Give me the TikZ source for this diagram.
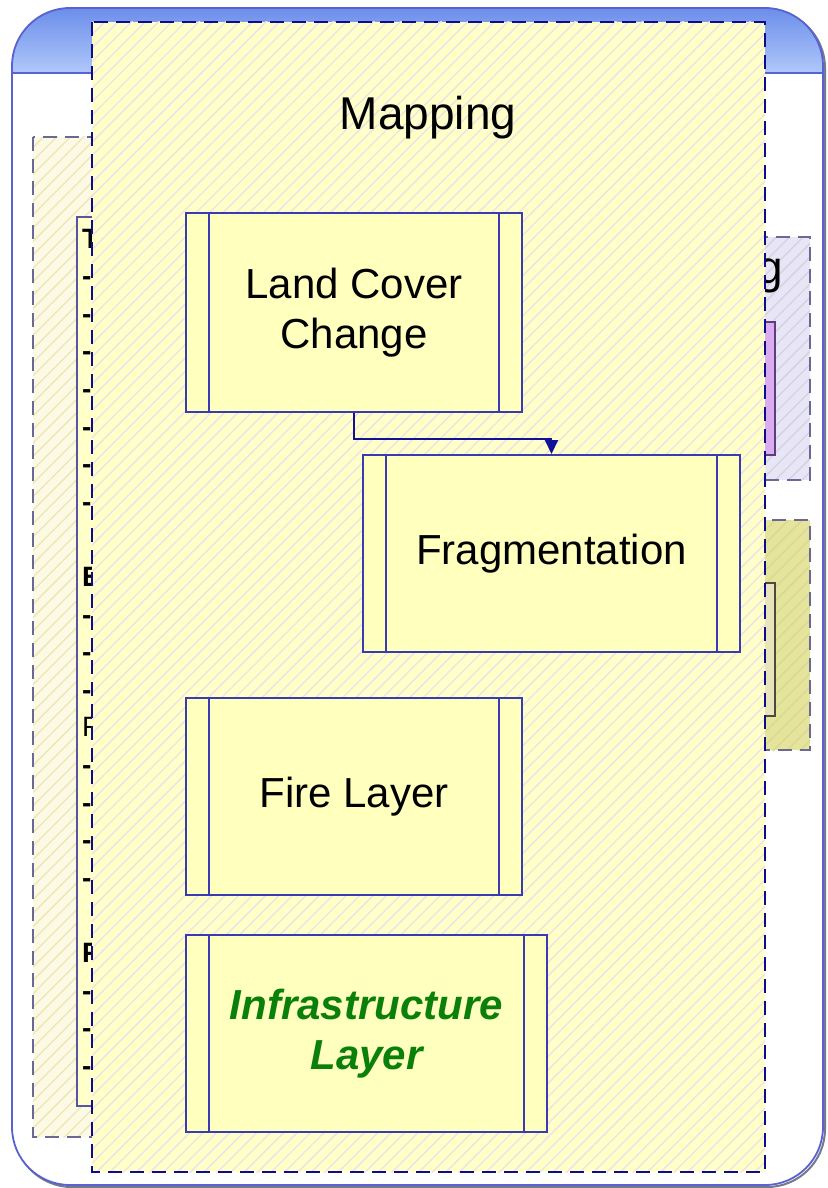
\documentclass[tikz,border=0pt]{standalone}
\usepackage{fontspec}
\setmainfont{Liberation Sans}
\usetikzlibrary{patterns.meta, arrows.meta, calc}

\definecolor{hdtop}{RGB}{108,142,234}
\definecolor{hdbot}{RGB}{176,200,250}
\definecolor{outerline}{RGB}{88,98,208}
\definecolor{shadowcol}{RGB}{120,120,140}
\definecolor{panelfill}{RGB}{255,255,200}
\definecolor{panelhatch}{RGB}{240,222,234}
\definecolor{mapline}{RGB}{12,12,140}
\definecolor{nodefill}{RGB}{255,255,190}
\definecolor{boxline}{RGB}{58,58,178}
\definecolor{flowcol}{RGB}{18,18,150}
\definecolor{infragreen}{RGB}{10,128,10}
\definecolor{leftfill}{RGB}{252,250,228}
\definecolor{lefthatch}{RGB}{238,230,178}
\definecolor{greyline}{RGB}{105,105,150}
\definecolor{listfill}{RGB}{255,255,202}
\definecolor{listline}{RGB}{85,85,160}
\definecolor{lavfill}{RGB}{232,230,246}
\definecolor{lavhatch}{RGB}{212,210,222}
\definecolor{purplebox}{RGB}{218,172,240}
\definecolor{purpleline}{RGB}{95,60,125}
\definecolor{olivefill}{RGB}{228,228,156}
\definecolor{olivehatch}{RGB}{216,216,144}
\definecolor{olivebox}{RGB}{232,228,188}
\definecolor{oliveline}{RGB}{80,72,60}

\begin{document}
\begin{tikzpicture}[x=1pt,y=-1pt,
  panelborder/.style={dash pattern=on 14pt off 8pt, line width=2pt},
  hatch/.style={pattern={Lines[angle=45,distance=9.5pt,line width=1.3pt]}, pattern color=#1},
  layerbox/.style={draw=boxline, line width=1.9pt, fill=nodefill, inner sep=0pt,
    align=center, text=black, font=\fontsize{42}{50}\selectfont},
  sidebar/.style={draw=boxline, line width=1.9pt},
  listhead/.style={anchor=base west, inner sep=0pt, font=\fontsize{28}{34}\selectfont\bfseries},
  listitem/.style={anchor=base west, inner sep=0pt, font=\fontsize{28}{34}\selectfont},
  flow/.style={draw=flowcol, line width=1.7pt, -{Triangle[length=14pt,width=13pt]}}
]
\useasboundingbox (0,0) rectangle (827,1188);
\fill[white] (0,0) rectangle (827,1188);

% outer container with blue title band
\draw[shadowcol, line width=2pt, rounded corners=58pt] (14,10) rectangle (825,1187);
\begin{scope}
  \clip[rounded corners=58pt] (12,8) rectangle (823,1185);
  \fill[white] (12,8) rectangle (823,1185);
  \shade[top color=hdtop, bottom color=hdbot] (12,8) rectangle (823,73);
\end{scope}
\draw[outerline, line width=1.2pt] (12,73) -- (823,73);
\draw[outerline, line width=1.8pt, rounded corners=58pt] (12,8) rectangle (823,1185);

% left panel (mostly covered)
\fill[leftfill] (33,137) rectangle (200,1137);
\fill[hatch=lefthatch] (33,137) rectangle (200,1137);
\draw[greyline, panelborder] (33,137) rectangle (200,1137);
\draw[listline, line width=1.6pt, fill=listfill] (77,217) rectangle (200,1106);
\foreach \k/\s in {0/T,9/E,19/F}
  \node[listhead] (head\k) at (82,{248+37.6*\k}) {\s};
\node[listitem] (item13) at (82,{248+37.6*13}) {R};
\foreach \k in {1,2,3,4,5,6,7,10,11,12,14,15,16,17,20,21,22}
  \node[listhead] (tick\k) at (82,{248+37.6*\k}) {-};

% right panels (mostly covered)
\fill[lavfill] (700,237) rectangle (810,480);
\fill[hatch=lavhatch] (700,237) rectangle (810,480);
\draw[greyline, panelborder] (700,237) rectangle (810,480);
\node[anchor=base east, inner sep=0pt, font=\fontsize{46}{52}\selectfont] (rtitle) at (783,283) {g};
\draw[purpleline, line width=1.5pt, fill=purplebox] (740,322) rectangle (775,455);

\fill[olivefill] (700,520) rectangle (810,750);
\fill[hatch=olivehatch] (700,520) rectangle (810,750);
\draw[greyline, panelborder] (700,520) rectangle (810,750);
\draw[oliveline, line width=1.5pt, fill=olivebox] (740,583) rectangle (775,716);

% Mapping panel
\fill[panelfill] (92,22) rectangle (765,1172);
\fill[hatch=panelhatch] (92,22) rectangle (765,1172);
\draw[mapline, panelborder] (92,22) rectangle (765,1172);
\node[anchor=base, inner sep=0pt, font=\fontsize{46}{52}\selectfont] (maptitle) at (428,129) {Mapping};

% layers, each with a bar inside both side edges
\node[layerbox, minimum width=336pt, minimum height=199pt] (lcc) at (354,312.5) {Land Cover\\Change};
\node[layerbox, minimum width=377pt, minimum height=197pt] (frag) at (551.5,553.5) {Fragmentation};
\node[layerbox, minimum width=336pt, minimum height=197pt] (fire) at (354,796.5) {Fire Layer};
\node[layerbox, minimum width=361pt, minimum height=197pt,
      font=\fontsize{42}{50}\selectfont\bfseries\itshape, text=infragreen] (infra) at (366.5,1033.5)
      {Infrastructure\\Layer};
\foreach \n in {lcc,frag,fire,infra}{
  \draw[sidebar] ([xshift=24pt]\n.north west) -- ([xshift=24pt]\n.south west);
  \draw[sidebar] ([xshift=-24pt]\n.north east) -- ([xshift=-24pt]\n.south east);
}

% connector
\draw[flow] (lcc.south) -- ($(lcc.south)+(0,26)$) -| (frag.north);
\end{tikzpicture}
\end{document}
